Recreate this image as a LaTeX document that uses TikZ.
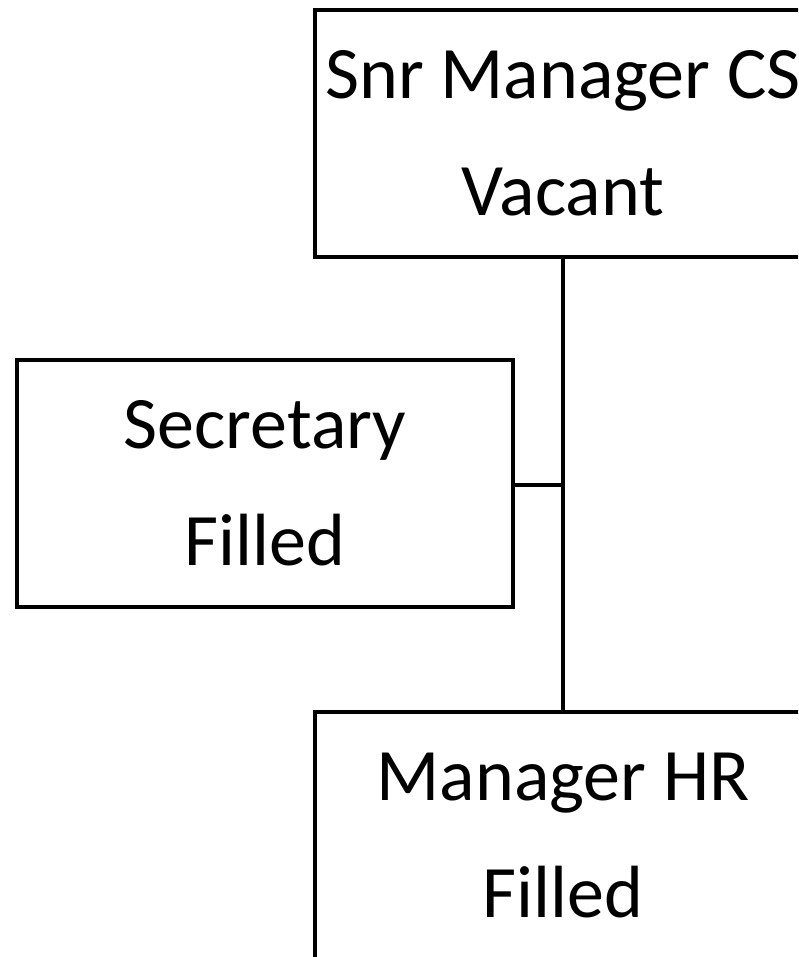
\documentclass[tikz,border=0pt]{standalone}
\usepackage{fontspec}
\setmainfont{Carlito}
\usepackage{tikz}
\usetikzlibrary{positioning,calc}
\tikzset{
    % Position box style
    post/.style={
        rectangle,
        draw=black,
        fill=white,
        line width=4pt,
        minimum width=496pt,
        minimum height=247pt,
        align=center,
        inner sep=0pt,
        font=\fontsize{74pt}{117pt}\selectfont
    },
    % Connector style
    link/.style={
        line width=4pt,
        draw=black
    }
}
\begin{document}
\begin{tikzpicture}[x=1pt,y=-1pt]
    \useasboundingbox (0,0) rectangle (798,957);
    \clip (0,0) rectangle (798,957);

    % Connections
    \coordinate (jn) at (563,485);

    % Boxes
    \node[post] (snr) at (563,133.5) {Snr Manager CS\\Vacant};
    \node[post] (sec) at (265,483.5) {Secretary\\Filled};
    \node[post] (mhr) at (563,835.5) {Manager HR\\Filled};

    \draw[link] (snr.south) -- (mhr.north);
    \draw[link] (sec.east |- jn) -- (jn);
\end{tikzpicture}
\end{document}
